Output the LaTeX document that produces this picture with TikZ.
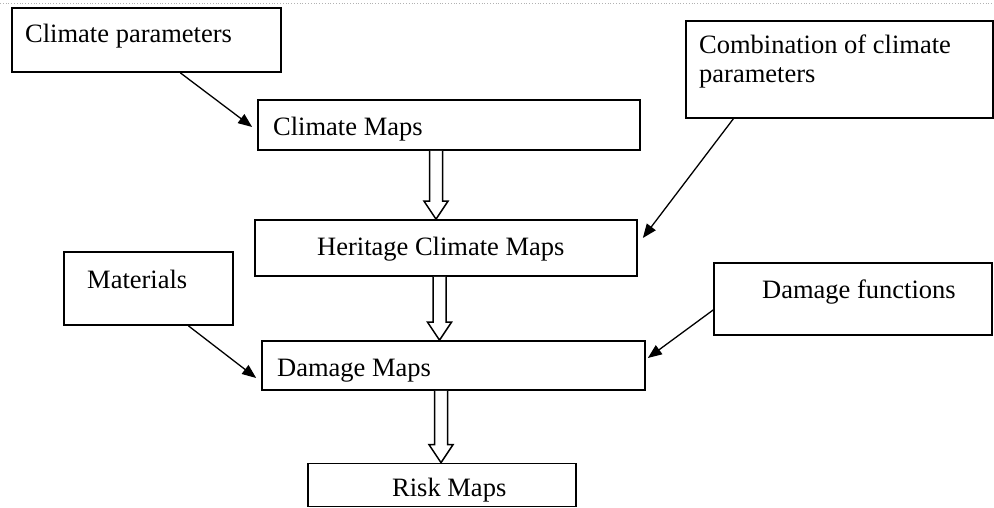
\documentclass[tikz,border=0pt]{standalone}
\usepackage{fontspec}
\setmainfont{Liberation Serif}
\usetikzlibrary{arrows.meta,calc}
\tikzset{
  boxnode/.style={draw, line width=1.7pt, rectangle, inner sep=0pt},
  txt/.style={inner sep=0pt, anchor=base west, font=\fontsize{26.5}{29}\selectfont},
  feed/.style={line width=1.3pt, -{Triangle[length=14pt,width=11pt]}},
  hollow/.style={draw, line width=1.5pt, fill=white, line join=miter}
}
\newcommand\hollowarrow[2]{%
  \draw[hollow] let \p1=(#1), \p2=(#2) in
    (\x1-6.5pt,\y1) -- (\x1-6.5pt,\y2+18pt) -- (\x1-12pt,\y2+18pt) -- (\x1,\y2)
    -- (\x1+12pt,\y2+18pt) -- (\x1+6.5pt,\y2+18pt) -- (\x1+6.5pt,\y1);}
\begin{document}
\begin{tikzpicture}[x=1pt,y=-1pt]
\useasboundingbox (0,0) rectangle (994,508);
\draw[gray!60, dotted, line width=0.8pt] (0,3) -- (994,3);

% boxes
\node[boxnode, minimum width=269pt, minimum height=64pt] (cp) at (146.5,40) {};
\node[boxnode, minimum width=382pt, minimum height=50pt] (cm) at (449,125) {};
\node[boxnode, minimum width=307pt, minimum height=97pt] (comb) at (839.5,69.5) {};
\node[boxnode, minimum width=382pt, minimum height=56pt] (hcm) at (446,248) {};
\node[boxnode, minimum width=169pt, minimum height=73pt] (mat) at (148.5,288.5) {};
\node[boxnode, minimum width=383pt, minimum height=49pt] (dm) at (453.5,365.5) {};
\node[boxnode, minimum width=278pt, minimum height=72pt] (df) at (853,299) {};
\node[boxnode, minimum width=268pt, minimum height=43pt] (rm) at (442,485) {};

% texts
\node[txt] (cpt) at (25,43) {Climate parameters};
\node[txt] (cmt) at (273,136) {Climate Maps};
\node[txt] (combt1) at (699,54) {Combination of climate};
\node[txt] (combt2) at (699,83) {parameters};
\node[txt] (hcmt) at (317,255) {Heritage Climate Maps};
\node[txt] (matt) at (87,288) {Materials};
\node[txt] (dmt) at (277,376) {Damage Maps};
\node[txt] (dft) at (762,298) {Damage functions};
\node[txt] (rmt) at (392,496) {Risk Maps};

% feed arrows
\draw[feed] ($(cp.south west)!0.625!(cp.south east)$) -- ([xshift=-5pt,yshift=-2pt]cm.west);
\draw[feed] ($(comb.south west)!0.156!(comb.south east)$) -- ([xshift=5pt,yshift=10pt]hcm.east);
\draw[feed] ($(mat.south west)!0.734!(mat.south east)$) -- ([xshift=-5pt,yshift=-12.5pt]dm.west);
\draw[feed] ([yshift=-11pt]df.west) -- ([xshift=2pt,yshift=7.5pt]dm.east);

% hollow block arrows
\hollowarrow{[xshift=-13pt]cm.south}{[xshift=-13pt]cm.south |- hcm.north}
\hollowarrow{[xshift=-6.5pt]hcm.south}{[xshift=-6.5pt]hcm.south |- dm.north}
\hollowarrow{[xshift=-12.5pt]dm.south}{[xshift=-12.5pt]dm.south |- rm.north}
\end{tikzpicture}
\end{document}
